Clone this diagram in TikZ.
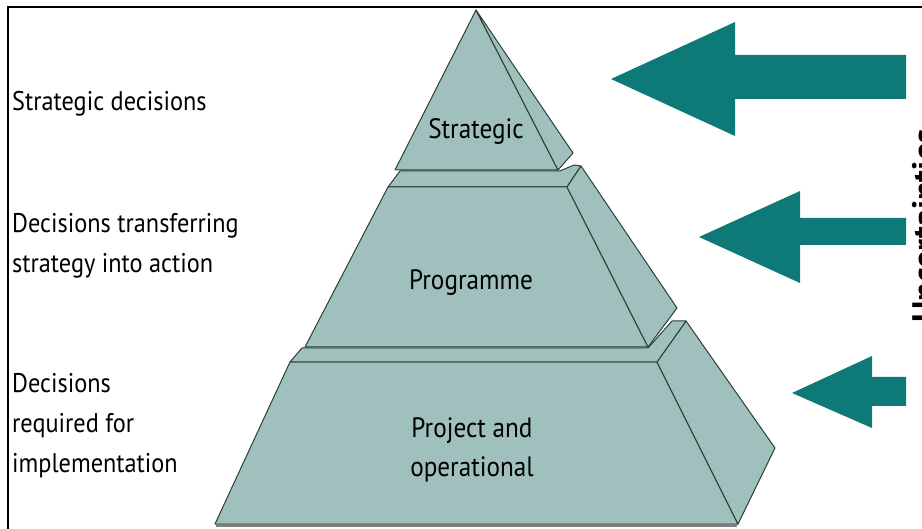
\documentclass[tikz,border=0pt]{standalone}
\usepackage{fontspec}
\setmainfont{PT Sans}
\newfontfamily\narrowfont[FakeStretch=0.9]{PT Sans}
\usetikzlibrary{positioning}

\definecolor{pyrfill}{HTML}{A0C0BE}
\definecolor{pyredge}{HTML}{2B3F35}
\definecolor{arrowteal}{HTML}{0E7A77}

\begin{document}
\begin{tikzpicture}[x=1pt, y=-1pt,
  face/.style={fill=pyrfill, draw=pyredge, line width=1pt, line join=round},
  blockarrow/.style={fill=arrowteal},
  sidelabel/.style={anchor=north west, align=left, inner sep=0pt,
    font=\narrowfont\fontsize{27}{40}\selectfont},
  tierlabel/.style={align=center, inner sep=0pt,
    font=\narrowfont\fontsize{28}{39}\selectfont}]
\useasboundingbox (0,0) rectangle (922,529);

% bottom tier
\coordinate (bFL) at (215,524);
\coordinate (bFR) at (738,524);
\coordinate (bTR) at (657,362);
\coordinate (bTL) at (290,362);
\coordinate (bST) at (686,321);
\coordinate (bSR) at (775,448);

% middle tier
\coordinate (mFL) at (305,347);
\coordinate (mFR) at (648,347);
\coordinate (mTR) at (567,187);
\coordinate (mTL) at (388,187);
\coordinate (mST) at (581,166);
\coordinate (mSR) at (677,308);

% top tier
\coordinate (apex) at (476,10);
\coordinate (tFL) at (395,170);
\coordinate (tFR) at (558,170);
\coordinate (tSR) at (573,153);

\draw[line width=2pt] (8,529) -- (8,7) -- (922,7);

\draw[face] (bFL) -- (bFR) -- (bTR) -- (bTL) -- cycle;
\draw[face] (bTR) -- (bST) -- (bSR) -- (bFR) -- cycle;
\draw[face] (bTL) -- (302,348) -- (648,348) -- (672,321) -- (bST) -- (bTR) -- cycle;
\draw[gray, line width=1.5pt] (216,526) -- (737,526);

\draw[face] (mTL) -- (400,171) -- (560,171) -- (574,165) -- (mST) -- (mTR) -- cycle;
\draw[face] (mFL) -- (mFR) -- (mTR) -- (mTL) -- cycle;
\draw[face] (mTR) -- (mST) -- (mSR) -- (mFR) -- cycle;

\draw[face] (apex) -- (tFR) -- (tFL) -- cycle;
\draw[face] (apex) -- (tSR) -- (tFR) -- cycle;

\node[tierlabel] (strat) at (476,132) {Strategic};
\node[tierlabel] (prog) at (471,283) {Programme};
\node[tierlabel] (proj) at (472,450) {Project and\\operational};

% left hand descriptions
\node[sidelabel] (stratdec) at (12,91) {Strategic decisions};
\node[sidelabel] (progdec) at (12,213) {Decisions transferring\\strategy into action};
\node[sidelabel] (projdec) at (12,373) {Decisions\\required for\\implementation};

% arrows coming in from the right
\fill[blockarrow] (611,79) -- (735,22) -- (735,55) -- (906,55) -- (906,99)
  -- (735,99) -- (735,136) -- cycle;
\fill[blockarrow] (699,237) -- (800,191) -- (800,218) -- (906,218) -- (906,245)
  -- (800,245) -- (800,283) -- cycle;
\fill[blockarrow] (792,393) -- (872,356) -- (872,377) -- (906,377) -- (906,406)
  -- (872,406) -- (872,428) -- cycle;

\begin{scope}
\clip (0,0) rectangle (922,529);
\node[rotate=90, anchor=north, inner sep=0pt, font=\fontsize{34}{36}\bfseries\selectfont]
  (uncert) at (912,226) {Uncertainties};
\end{scope}
\end{tikzpicture}
\end{document}
